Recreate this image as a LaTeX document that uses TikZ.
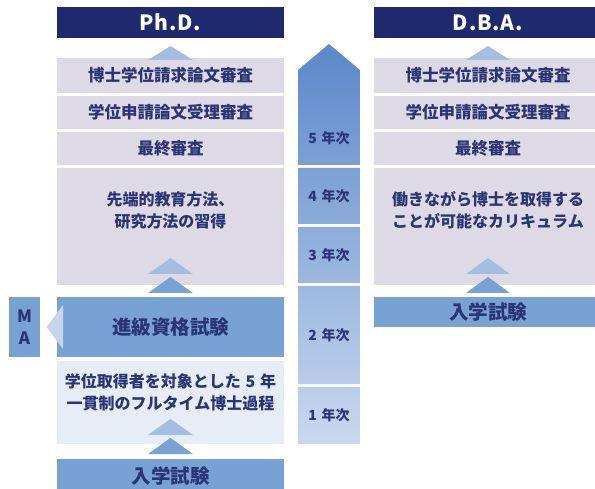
\documentclass[tikz,border=0pt]{standalone}
\usepackage{fontspec}
\setmainfont{Noto Sans CJK JP}
\definecolor{navy}{HTML}{1F2A6E}
\definecolor{gcol}{HTML}{DDDAE5}
\definecolor{bcol}{HTML}{78A1D4}
\definecolor{ltri}{HTML}{A4BEE3}
\definecolor{vlight}{HTML}{E7EDF7}
\definecolor{matri}{HTML}{C7D5EC}
\definecolor{tcol}{HTML}{2B3474}
\definecolor{gtop}{HTML}{5A88C9}
\definecolor{gbot}{HTML}{C9D8EF}
\begin{document}
\begin{tikzpicture}[x=1pt,y=-1pt,
  blk/.style={draw=none,inner sep=0pt,outer sep=0pt},
  hdr/.style={blk,fill=navy,text=white,font=\bfseries\fontsize{21}{24}\selectfont\addfontfeatures{LetterSpace=4}},
  gbox/.style={blk,fill=gcol,text=tcol,font=\bfseries\fontsize{16.5}{20}\selectfont},
  bbox/.style={blk,fill=bcol,text=tcol,font=\bfseries\fontsize{19.5}{22}\selectfont},
  lbox/.style={blk,fill=vlight},
  txt/.style={text=tcol,font=\bfseries\fontsize{16}{21.5}\selectfont,align=center,inner sep=0pt},
  ytxt/.style={text=tcol,font=\bfseries\fontsize{14}{16}\selectfont,inner sep=0pt}]
\useasboundingbox (0,0) rectangle (595,489);
\clip (0,0) rectangle (595,489);
% ---------- left column (Ph.D.) ----------
\node[hdr,minimum width=227pt,minimum height=31pt] (phd) at (170.5,22.5) {Ph.D.};
\node[gbox,minimum width=227pt,minimum height=35pt] (l1) at (170.5,75.5) {博士学位請求論文審査};
\node[gbox,minimum width=227pt,minimum height=33pt] (l2) at (170.5,112.5) {学位申請論文受理審査};
\node[gbox,minimum width=227pt,minimum height=33pt] (l3) at (170.5,148.5) {最終審査};
\node[gbox,minimum width=227pt,minimum height=117pt] (l4) at (170.5,226.5) {};
\node[txt] (l4t) at (170.5,210.5) {先端的教育方法、\\研究方法の習得};
\node[bbox,minimum width=227pt,minimum height=60pt] (adv) at (170.5,327) {進級資格試験};
\node[lbox,minimum width=227pt,minimum height=83pt] (l5) at (170.5,402.5) {};
\node[txt] (l5t) at (170.5,392.5) {学位取得者を対象とした\hspace{0.3em}5\hspace{0.3em}年\\一貫制のフルタイム博士過程};
\node[bbox,minimum width=227pt,minimum height=34pt] (lent) at (170.5,476) {入学試験};
% MA
\node[bbox,minimum width=31pt,minimum height=60pt,align=center,font=\bfseries\fontsize{17}{22}\selectfont] (ma) at (24.5,327) {M\\A};
\fill[matri] (46.5,327) -- (63,305) -- (63,349) -- cycle;
% triangles left
\fill[ltri] (148,60) -- (170.5,46) -- (193,60) -- cycle;
\fill[ltri] (148,274) -- (170.5,258) -- (193,274) -- cycle;
\fill[bcol] (148,293) -- (170.5,277) -- (193,293) -- cycle;
\fill[ltri] (148,435) -- (170.5,419) -- (193,435) -- cycle;
\fill[bcol] (148,454) -- (170.5,438) -- (193,454) -- cycle;
% ---------- middle year column ----------
\begin{scope}
\clip (298,70) -- (329,44) -- (360,70) -- (360,165) -- (298,165) -- cycle
      (298,168) rectangle (360,224)
      (298,227) rectangle (360,283)
      (298,286) rectangle (360,384)
      (298,387) rectangle (360,444);
\shade[top color=gtop,bottom color=gbot] (298,44) rectangle (360,444);
\end{scope}
\node[ytxt] (y5) at (329,138) {5\hspace{0.35em}年次};
\node[ytxt] (y4) at (329,196) {4\hspace{0.35em}年次};
\node[ytxt] (y3) at (329,255) {3\hspace{0.35em}年次};
\node[ytxt] (y2) at (329,335) {2\hspace{0.35em}年次};
\node[ytxt] (y1) at (329,415) {1\hspace{0.35em}年次};
% ---------- right column (D.B.A.) ----------
\node[hdr,minimum width=228pt,minimum height=31pt] (dba) at (488,22.5) {D.B.A.};
\node[gbox,minimum width=228pt,minimum height=35pt] (r1) at (488,75.5) {博士学位請求論文審査};
\node[gbox,minimum width=228pt,minimum height=33pt] (r2) at (488,112.5) {学位申請論文受理審査};
\node[gbox,minimum width=228pt,minimum height=33pt] (r3) at (488,148.5) {最終審査};
\node[gbox,minimum width=228pt,minimum height=117pt] (r4) at (488,226.5) {};
\node[txt] (r4t) at (488,210) {働きながら博士を取得する\\ことが可能なカリキュラム};
\node[bbox,minimum width=228pt,minimum height=30pt] (rent) at (488,312) {入学試験};
\fill[ltri] (466,60) -- (488,46) -- (510,60) -- cycle;
\fill[ltri] (466,274) -- (488,258) -- (510,274) -- cycle;
\fill[bcol] (466,293) -- (488,277) -- (510,293) -- cycle;
\end{tikzpicture}
\end{document}
